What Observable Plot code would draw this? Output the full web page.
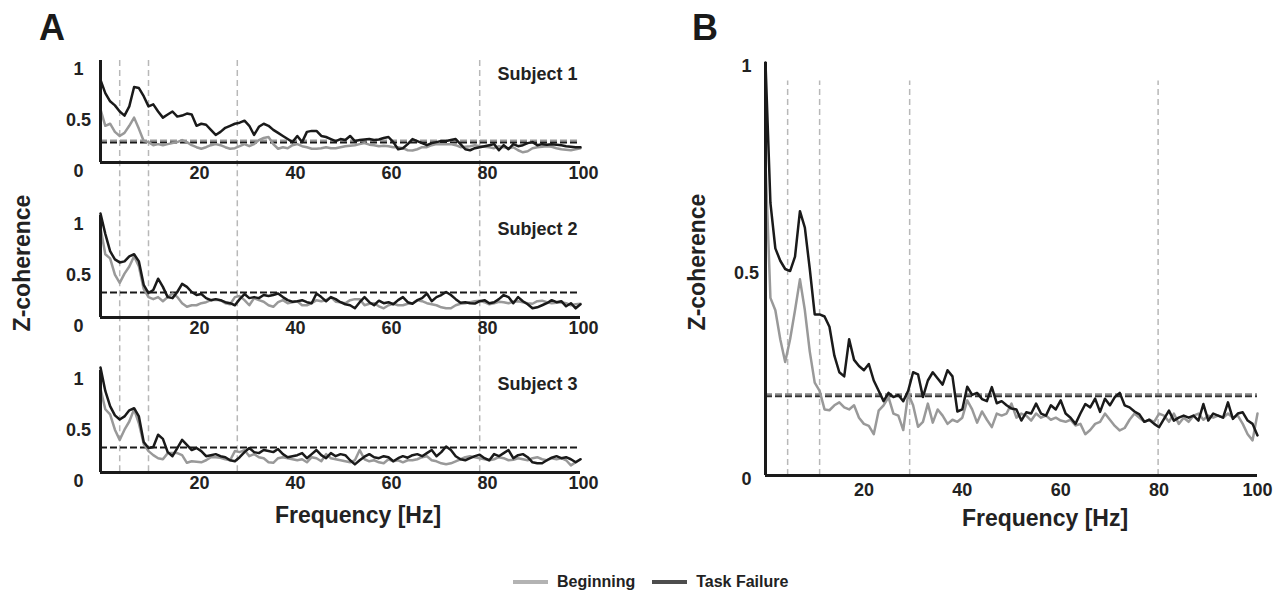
<!DOCTYPE html>
<html><head><meta charset="utf-8">
<script src="https://cdn.jsdelivr.net/npm/d3@7"></script>
<script src="https://cdn.jsdelivr.net/npm/@observablehq/plot@0.6"></script>
<style>
body{margin:0;background:#fff;font-family:"Liberation Sans",Arial,Helvetica,sans-serif;}
#wrap{position:relative;width:1275px;height:593px;overflow:hidden;background:#fff;}
.abs{position:absolute;}
.letter{font-weight:bold;font-size:36px;color:#1a1a1a;line-height:36px;}
.ylab{font-weight:bold;font-size:23px;color:#222;width:220px;height:26px;line-height:26px;text-align:center;transform:rotate(-90deg);white-space:nowrap;}
.xlab{font-weight:bold;font-size:23px;color:#222;width:300px;height:26px;line-height:26px;text-align:center;white-space:nowrap;}
#legend{display:flex;align-items:center;font-weight:bold;font-size:16px;color:#222;white-space:nowrap;}
.sw{display:inline-block;width:35px;height:4px;margin-right:9px;}
</style></head>
<body><div id="wrap">
<div class="abs letter" style="left:39px;top:10px;">A</div>
<div class="abs letter" style="left:692px;top:10px;">B</div>
<div class="abs ylab" style="left:-88px;top:250px;">Z-coherence</div>
<div class="abs ylab" style="left:587px;top:249px;">Z-coherence</div>
<div class="abs xlab" style="left:208px;top:502px;">Frequency [Hz]</div>
<div class="abs xlab" style="left:895px;top:505px;">Frequency [Hz]</div>
<div id="plotA" class="abs" style="left:0;top:0;"></div>
<div id="plotB" class="abs" style="left:640px;top:0;"></div>
<div id="legend" class="abs" style="left:513px;top:573px;">
  <span class="sw" style="background:#b3b3b3"></span><span>Beginning</span>
  <span class="sw" style="background:#4d4d4d;margin-left:17px"></span><span>Task Failure</span>
</div>
</div>
<script>
// ---------- data ----------
const freq = d3.range(0, 101); // Hz, 1 Hz bins
const subjects = ["Subject 1", "Subject 2", "Subject 3"];
const seriesNames = ["Beginning", "Task Failure"];
const xTicks = [20, 40, 60, 80, 100];
const yTicks = [0, 0.5, 1];

// Panel A, Subject 1
const begS1 = [0.52,0.36,0.38,0.30,0.26,0.29,0.36,0.44,0.33,0.21,0.20,0.17,0.18,0.17,0.18,0.19,0.20,0.22,0.20,0.17,0.15,0.135,0.15,0.17,0.18,0.17,0.15,0.135,0.14,0.16,0.18,0.16,0.18,0.22,0.24,0.25,0.18,0.135,0.15,0.14,0.17,0.18,0.16,0.15,0.135,0.135,0.14,0.15,0.14,0.14,0.15,0.16,0.165,0.17,0.18,0.19,0.175,0.17,0.16,0.165,0.16,0.15,0.15,0.14,0.12,0.117,0.13,0.15,0.15,0.17,0.18,0.18,0.18,0.18,0.17,0.15,0.155,0.16,0.17,0.16,0.155,0.15,0.14,0.16,0.15,0.14,0.15,0.12,0.10,0.11,0.14,0.15,0.155,0.16,0.155,0.14,0.13,0.125,0.12,0.13,0.14];
const tfS1 = [0.81,0.68,0.60,0.56,0.50,0.46,0.55,0.74,0.73,0.65,0.55,0.57,0.50,0.44,0.47,0.50,0.45,0.46,0.48,0.47,0.36,0.38,0.37,0.32,0.27,0.30,0.34,0.36,0.38,0.39,0.41,0.36,0.27,0.35,0.38,0.36,0.32,0.29,0.26,0.23,0.20,0.26,0.20,0.30,0.31,0.31,0.26,0.25,0.23,0.21,0.23,0.22,0.26,0.21,0.22,0.225,0.23,0.22,0.225,0.24,0.25,0.20,0.13,0.14,0.18,0.23,0.21,0.19,0.17,0.19,0.20,0.21,0.21,0.22,0.23,0.18,0.13,0.12,0.14,0.15,0.16,0.17,0.18,0.12,0.17,0.13,0.18,0.16,0.17,0.19,0.20,0.17,0.18,0.175,0.18,0.175,0.17,0.16,0.155,0.15,0.15];
// Panel A, Subject 2
const begS2 = [0.88,0.62,0.58,0.42,0.34,0.43,0.50,0.60,0.50,0.28,0.20,0.18,0.20,0.16,0.20,0.235,0.20,0.14,0.105,0.12,0.12,0.14,0.15,0.17,0.175,0.17,0.14,0.13,0.20,0.21,0.17,0.12,0.19,0.17,0.155,0.12,0.105,0.15,0.17,0.14,0.15,0.16,0.12,0.12,0.14,0.17,0.16,0.17,0.20,0.155,0.15,0.14,0.17,0.18,0.18,0.12,0.135,0.14,0.11,0.09,0.12,0.135,0.12,0.12,0.135,0.14,0.17,0.16,0.14,0.13,0.12,0.10,0.09,0.09,0.12,0.135,0.14,0.15,0.16,0.165,0.15,0.13,0.14,0.155,0.15,0.14,0.155,0.16,0.15,0.14,0.135,0.16,0.165,0.15,0.14,0.145,0.15,0.14,0.12,0.13,0.135];
const tfS2 = [1.02,0.82,0.65,0.57,0.54,0.55,0.60,0.62,0.55,0.32,0.24,0.27,0.38,0.30,0.20,0.19,0.25,0.33,0.30,0.25,0.22,0.23,0.19,0.17,0.18,0.17,0.15,0.14,0.12,0.18,0.23,0.19,0.20,0.19,0.22,0.21,0.22,0.235,0.20,0.17,0.155,0.16,0.17,0.15,0.14,0.235,0.20,0.16,0.20,0.18,0.15,0.13,0.12,0.09,0.15,0.20,0.15,0.12,0.165,0.14,0.15,0.13,0.17,0.20,0.15,0.135,0.17,0.19,0.235,0.16,0.20,0.22,0.25,0.22,0.18,0.145,0.15,0.14,0.137,0.16,0.17,0.14,0.15,0.18,0.22,0.20,0.14,0.20,0.16,0.13,0.09,0.10,0.12,0.14,0.17,0.15,0.16,0.11,0.14,0.09,0.13];
// Panel A, Subject 3
const begS3 = [0.82,0.62,0.57,0.42,0.32,0.42,0.50,0.62,0.48,0.28,0.21,0.17,0.14,0.13,0.19,0.19,0.19,0.17,0.095,0.11,0.105,0.10,0.12,0.15,0.15,0.145,0.13,0.12,0.21,0.20,0.22,0.16,0.18,0.15,0.14,0.10,0.095,0.14,0.15,0.14,0.13,0.12,0.13,0.10,0.15,0.14,0.11,0.18,0.14,0.13,0.12,0.11,0.10,0.12,0.22,0.13,0.11,0.12,0.10,0.09,0.13,0.11,0.12,0.10,0.12,0.12,0.13,0.15,0.16,0.12,0.11,0.09,0.08,0.09,0.11,0.13,0.15,0.16,0.15,0.14,0.13,0.12,0.13,0.15,0.14,0.12,0.125,0.14,0.13,0.12,0.14,0.15,0.13,0.12,0.14,0.13,0.14,0.12,0.07,0.10,0.13];
const tfS3 = [1.03,0.80,0.65,0.56,0.52,0.55,0.61,0.63,0.55,0.30,0.24,0.25,0.37,0.33,0.20,0.16,0.24,0.32,0.27,0.22,0.24,0.21,0.16,0.17,0.18,0.16,0.15,0.12,0.11,0.15,0.20,0.24,0.20,0.19,0.22,0.21,0.20,0.23,0.18,0.15,0.16,0.17,0.19,0.14,0.18,0.22,0.17,0.14,0.19,0.16,0.18,0.17,0.12,0.08,0.12,0.155,0.18,0.15,0.14,0.16,0.15,0.11,0.14,0.16,0.145,0.17,0.18,0.16,0.19,0.22,0.16,0.20,0.255,0.22,0.16,0.13,0.12,0.14,0.16,0.175,0.14,0.12,0.18,0.16,0.19,0.22,0.14,0.17,0.18,0.15,0.10,0.09,0.09,0.12,0.145,0.16,0.14,0.15,0.13,0.10,0.13];
// Panel B (group)
const begB = [0.76,0.43,0.40,0.33,0.275,0.33,0.40,0.475,0.40,0.30,0.225,0.205,0.16,0.158,0.17,0.177,0.165,0.16,0.17,0.14,0.125,0.12,0.10,0.157,0.17,0.19,0.15,0.145,0.11,0.198,0.17,0.118,0.13,0.174,0.128,0.16,0.145,0.125,0.135,0.13,0.14,0.182,0.16,0.128,0.155,0.135,0.117,0.15,0.145,0.15,0.174,0.14,0.15,0.145,0.133,0.15,0.14,0.145,0.135,0.14,0.133,0.13,0.135,0.121,0.125,0.10,0.11,0.125,0.13,0.15,0.135,0.12,0.109,0.115,0.135,0.15,0.14,0.13,0.135,0.13,0.15,0.145,0.13,0.15,0.125,0.14,0.13,0.145,0.15,0.135,0.145,0.14,0.145,0.14,0.15,0.14,0.145,0.125,0.10,0.085,0.15];
const tfB = [1.00,0.66,0.55,0.52,0.50,0.495,0.53,0.64,0.60,0.50,0.39,0.39,0.385,0.36,0.29,0.25,0.24,0.33,0.28,0.265,0.255,0.27,0.23,0.205,0.18,0.20,0.19,0.195,0.18,0.205,0.25,0.245,0.19,0.23,0.25,0.235,0.22,0.255,0.24,0.155,0.16,0.215,0.195,0.20,0.185,0.18,0.214,0.175,0.18,0.17,0.162,0.16,0.133,0.153,0.15,0.174,0.15,0.145,0.17,0.16,0.182,0.15,0.14,0.125,0.15,0.173,0.165,0.186,0.154,0.186,0.17,0.19,0.20,0.17,0.165,0.155,0.148,0.13,0.135,0.125,0.117,0.137,0.157,0.133,0.14,0.145,0.14,0.145,0.133,0.173,0.133,0.15,0.145,0.14,0.177,0.137,0.15,0.153,0.133,0.125,0.097];

// significance thresholds (dashed horizontal lines)
const threshA_beg = [0.216, null, null];
const threshA_tf = [0.195, 0.245, 0.245];
const threshB_beg = 0.197;
const threshB_tf = 0.192;
// vertical band markers [Hz]
const bandsA = [4, 10, 28.5, 79];
const bandsB = [4.5, 11, 29.3, 79.8];

// ---------- styles ----------
const FONT = '"Liberation Sans", Arial, Helvetica, sans-serif';
const C_BEG = "#999999", C_TF = "#1a1a1a", C_AX = "#1a1a1a", C_BAND = "#b8b8b8";

// ---------- build tidy tables ----------
const begA = [begS1, begS2, begS3], tfA = [tfS1, tfS2, tfS3];
const rowsBegA = [], rowsTfA = [];
subjects.forEach((s, i) => freq.forEach((f, j) => {
  rowsBegA.push({subject: s, f, v: begA[i][j]});
  rowsTfA.push({subject: s, f, v: tfA[i][j]});
}));
const thrBegA = subjects.map((s, i) => ({subject: s, v: threshA_beg[i]})).filter(d => d.v != null);
const thrTfA = subjects.map((s, i) => ({subject: s, v: threshA_tf[i]}));
const bandRowsTop = bandsA.map(f => ({subject: subjects[0], f}));
const bandRowsRest = subjects.slice(1).flatMap(s => bandsA.map(f => ({subject: s, f})));

// ---------- Panel A ----------
const WA = 640, HA = 540, mTopA = 60, mBotA = 67;
const fyPad = 0.34;
const stepA = (HA - mTopA - mBotA) / (subjects.length - fyPad);
const gapA = stepA * fyPad + 2;

const plotA = Plot.plot({
  width: WA, height: HA,
  marginLeft: 100, marginRight: 60, marginTop: mTopA, marginBottom: mBotA,
  style: {fontFamily: FONT, fontSize: "18px", fontWeight: "bold", color: "#222", background: "transparent"},
  x: {domain: [0, 100]},
  y: {domain: [0, 1]},
  fy: {domain: subjects, paddingInner: fyPad, paddingOuter: 0, axis: null, label: null},
  marks: [
    Plot.ruleX(bandRowsTop, {x: "f", fy: "subject", stroke: C_BAND, strokeWidth: 1.5, strokeDasharray: "6,4"}),
    Plot.ruleX(bandRowsRest, {x: "f", fy: "subject", stroke: C_BAND, strokeWidth: 1.5, strokeDasharray: "6,4", insetTop: -gapA}),
    Plot.ruleY(thrBegA, {y: "v", fy: "subject", stroke: "#999", strokeWidth: 2, strokeDasharray: "7,3"}),
    Plot.ruleY(thrTfA, {y: "v", fy: "subject", stroke: "#1a1a1a", strokeWidth: 2, strokeDasharray: "7,3"}),
    Plot.lineY(rowsBegA, {x: "f", y: "v", fy: "subject", stroke: C_BEG, strokeWidth: 2.5}),
    Plot.lineY(rowsTfA, {x: "f", y: "v", fy: "subject", stroke: C_TF, strokeWidth: 2.5}),
    Plot.ruleY([0], {stroke: C_AX, strokeWidth: 3}),
    Plot.ruleX([0], {stroke: C_AX, strokeWidth: 3}),
    Plot.axisX({ticks: xTicks, tickSize: 0, tickPadding: 4, tickFormat: d => String(d), label: null, facetAnchor: null, fontSize: 18, fontWeight: "bold", dx: 3}),
    Plot.axisY({ticks: yTicks, tickSize: 0, tickPadding: 22, textAnchor: "middle", dy: 9, tickFormat: d => String(d), label: null, fontSize: 18, fontWeight: "bold"}),
    Plot.text(subjects, {fy: d => d, text: d => d, frameAnchor: "top-right", dx: -3, dy: 7, fontSize: 18, fontWeight: "bold", fill: "#222"})
  ]
});
document.getElementById("plotA").appendChild(plotA);

// ---------- Panel B ----------
const rowsBegB = freq.map((f, j) => ({f, v: begB[j]}));
const rowsTfB = freq.map((f, j) => ({f, v: tfB[j]}));
const plotB = Plot.plot({
  width: 635, height: 540,
  marginLeft: 125, marginRight: 18, marginTop: 62, marginBottom: 65,
  style: {fontFamily: FONT, fontSize: "18px", fontWeight: "bold", color: "#222", background: "transparent"},
  x: {domain: [0, 100]},
  y: {domain: [0, 1]},
  marks: [
    Plot.ruleX(bandsB, {x: d => d, y1: 0, y2: 0.955, stroke: C_BAND, strokeWidth: 1.5, strokeDasharray: "6,4"}),
    Plot.ruleY([threshB_beg], {y: d => d, stroke: "#888", strokeWidth: 2, strokeDasharray: "7,3"}),
    Plot.ruleY([threshB_tf], {y: d => d, stroke: "#333", strokeWidth: 2, strokeDasharray: "7,3"}),
    Plot.lineY(rowsBegB, {x: "f", y: "v", stroke: C_BEG, strokeWidth: 2.5}),
    Plot.lineY(rowsTfB, {x: "f", y: "v", stroke: C_TF, strokeWidth: 2.5}),
    Plot.ruleY([0], {stroke: C_AX, strokeWidth: 3}),
    Plot.ruleX([0], {stroke: C_AX, strokeWidth: 3}),
    Plot.axisX({ticks: xTicks, tickSize: 0, tickPadding: 8, tickFormat: d => String(d), label: null, fontSize: 18, fontWeight: "bold"}),
    Plot.axisY({ticks: yTicks, tickSize: 0, tickPadding: 19, textAnchor: "middle", dy: 4, tickFormat: d => String(d), label: null, fontSize: 18, fontWeight: "bold"})
  ]
});
document.getElementById("plotB").appendChild(plotB);
</script>
</body></html>
